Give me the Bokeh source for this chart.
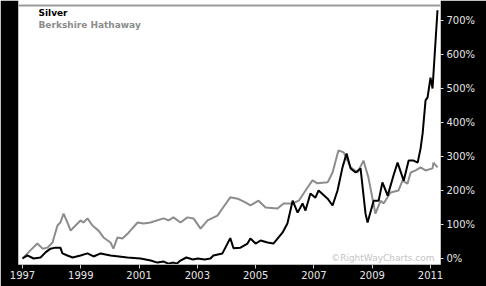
from bokeh.plotting import figure
from bokeh.models import Range1d, LinearAxis, FixedTicker, Span, Label, CustomJSTickFormatter
from bokeh.embed import file_html
from bokeh.resources import INLINE

silver_t = [1997.0, 1997.17, 1997.38, 1997.62, 1997.79, 1997.96, 1998.13, 1998.30, 1998.37, 1998.54,
            1998.72, 1998.99, 1999.23, 1999.44, 1999.68, 2000.02, 2000.60, 2001.05, 2001.40, 2001.63,
            2001.85, 2002.0, 2002.18, 2002.30, 2002.42, 2002.62, 2002.85, 2003.01, 2003.25, 2003.45,
            2003.55, 2003.86, 2004.13, 2004.24, 2004.48, 2004.72, 2004.82, 2005.0, 2005.17, 2005.41,
            2005.61, 2005.92, 2006.09, 2006.27, 2006.44, 2006.61, 2006.71, 2006.88, 2007.05, 2007.16,
            2007.47, 2007.64, 2007.81, 2007.98, 2008.12, 2008.26, 2008.43, 2008.60, 2008.77, 2008.84,
            2009.05, 2009.22, 2009.35, 2009.53, 2009.73, 2009.87, 2010.08, 2010.25, 2010.42, 2010.56,
            2010.66, 2010.73, 2010.83, 2010.90, 2011.00, 2011.07, 2011.24]
silver_v = [0, 9, 0, 3, 18, 29, 32, 32, 15, 9,
            3, 9, 15, 6, 15, 9, 3, 0, -6, -12,
            -9, -15, -12, -15, -6, 3, -3, 0, -3, 0,
            9, 15, 60, 30, 32, 44, 59, 44, 53, 47,
            44, 76, 103, 170, 135, 162, 141, 191, 179, 200,
            176, 156, 200, 268, 309, 265, 253, 265, 132, 106,
            170, 170, 224, 185, 244, 282, 229, 288, 288, 282,
            324, 368, 465, 474, 532, 500, 730]

brk_t = [1997.0, 1997.27, 1997.51, 1997.69, 1997.86, 1998.03, 1998.20, 1998.30, 1998.41, 1998.54,
         1998.65, 1998.82, 1998.99, 1999.09, 1999.23, 1999.40, 1999.61, 1999.78, 2000.02, 2000.12,
         2000.26, 2000.43, 2000.64, 2000.95, 2001.15, 2001.39, 2001.84, 2002.01, 2002.18, 2002.42,
         2002.66, 2002.87, 2003.11, 2003.35, 2003.69, 2003.86, 2004.13, 2004.38, 2004.65, 2004.82,
         2005.10, 2005.34, 2005.75, 2005.96, 2006.27, 2006.48, 2006.78, 2006.95, 2007.12, 2007.47,
         2007.64, 2007.84, 2008.02, 2008.26, 2008.50, 2008.70, 2008.87, 2009.11, 2009.29, 2009.39,
         2009.63, 2009.90, 2010.04, 2010.21, 2010.32, 2010.49, 2010.66, 2010.83, 2011.07, 2011.10,
         2011.24]
brk_v = [0, 24, 44, 29, 32, 47, 97, 106, 132, 106,
         82, 97, 112, 106, 118, 97, 82, 62, 47, 29,
         62, 59, 76, 106, 103, 106, 118, 112, 121, 106,
         121, 118, 88, 112, 126, 147, 180, 176, 165, 156,
         170, 150, 147, 162, 162, 170, 209, 230, 221, 224,
         253, 318, 312, 268, 253, 288, 238, 132, 170, 162,
         194, 200, 229, 220, 253, 259, 268, 259, 265, 282,
         268]

x_ticks = [1997, 1999, 2001, 2003, 2005, 2007, 2009, 2011]
y_ticks = [0, 100, 200, 300, 400, 500, 600, 700]

p = figure(width=486, height=286, output_backend="svg", toolbar_location=None,
           x_range=Range1d(1996.863, 2011.343), y_range=Range1d(-17.6, 758.8),
           min_border_left=18, min_border_right=46, min_border_top=0, min_border_bottom=22,
           background_fill_color="white", border_fill_color="black", y_axis_location=None)
p.outline_line_color = None
p.grid.visible = False

p.line(brk_t, brk_v, line_color="#8c8c8c", line_width=2)
p.line(silver_t, silver_v, line_color="black", line_width=2)

p.add_layout(Span(location=744, dimension="width", line_color="#999999", line_width=2))

xa = p.xaxis[0]
xa.ticker = FixedTicker(ticks=x_ticks)
xa.axis_line_color = "#bbbbbb"
xa.major_tick_line_color = "#cccccc"
xa.major_tick_out = 4
xa.major_tick_in = 0
xa.minor_tick_line_color = None
xa.major_label_text_color = "#e6e6e6"
xa.major_label_text_font = "DejaVu Sans"
xa.major_label_text_font_size = "10px"
xa.major_label_standoff = 2

ya = LinearAxis(ticker=FixedTicker(ticks=y_ticks),
                formatter=CustomJSTickFormatter(code="return tick + '%';"))
ya.axis_line_color = None
ya.major_tick_line_color = "#dddddd"
ya.major_tick_out = 3
ya.major_tick_in = 0
ya.minor_tick_line_color = None
ya.major_label_text_color = "#e6e6e6"
ya.major_label_text_font = "DejaVu Sans"
ya.major_label_text_font_size = "10px"
ya.major_label_standoff = 3
p.add_layout(ya, "right")

p.add_layout(Label(x=20, y=252, x_units="screen", y_units="screen", text="Silver",
                   text_font="DejaVu Sans", text_font_style="bold", text_font_size="9px",
                   text_color="black", text_baseline="middle"))
p.add_layout(Label(x=20, y=240, x_units="screen", y_units="screen", text="Berkshire Hathaway",
                   text_font="DejaVu Sans", text_font_style="bold", text_font_size="9px",
                   text_color="#8c8c8c", text_baseline="middle"))
p.add_layout(Label(x=416, y=7, x_units="screen", y_units="screen", text="©RightWayCharts.com",
                   text_font="DejaVu Sans", text_font_size="9px",
                   text_color="#c4c4c4", text_align="right", text_baseline="middle"))

open("out.html", "w").write(file_html(p, INLINE))
